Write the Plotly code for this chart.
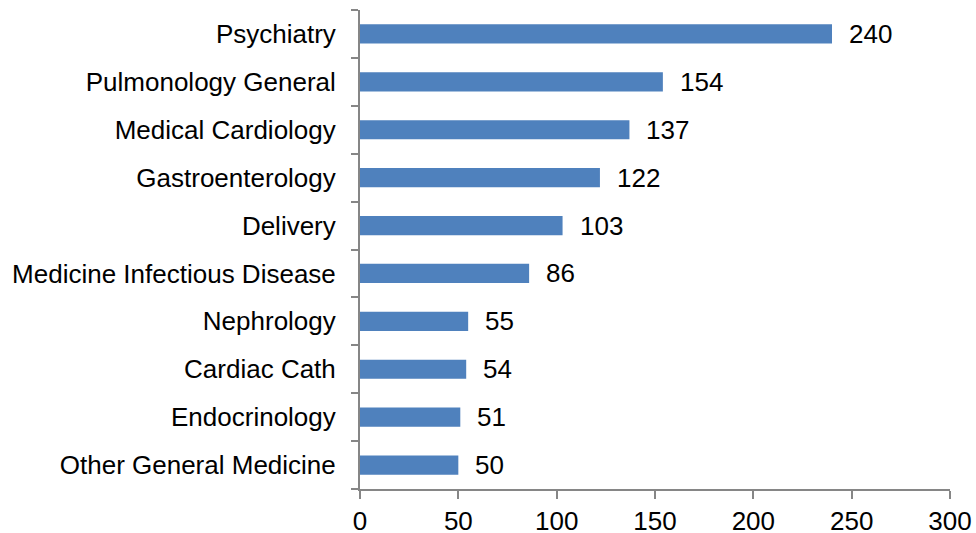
import plotly.graph_objects as go

# departments, top to bottom as shown in the chart
departments = ['Psychiatry', 'Pulmonology General', 'Medical Cardiology', 'Gastroenterology',
               'Delivery', 'Medicine Infectious Disease', 'Nephrology', 'Cardiac Cath',
               'Endocrinology', 'Other General Medicine']
counts = [240, 154, 137, 122, 103, 86, 55, 54, 51, 50]
x_ticks = [0, 50, 100, 150, 200, 250, 300]

font = dict(family='Liberation Sans, Arial, sans-serif', size=26, color='black')
axis_grey = '#868686'

fig = go.Figure()

# horizontal bars, reversed so the first department sits at the top
fig.add_trace(go.Bar(x=counts[::-1], y=departments[::-1], orientation='h',
                     marker=dict(color='#4F81BD', line=dict(width=0)),
                     width=0.4, hoverinfo='x+y'))

# value labels beside each bar
for d, c in zip(departments, counts):
    fig.add_annotation(x=c, y=d, text=str(c), showarrow=False, xanchor='left',
                       xshift=15, font=font)

fig.update_layout(width=976, height=533,
                  margin=dict(l=360, r=26, t=10, b=44),
                  plot_bgcolor='white', paper_bgcolor='white',
                  font=font, showlegend=False)

fig.update_xaxes(range=[0, 300], tickvals=x_ticks, showgrid=False, zeroline=False,
                 showline=True, linecolor=axis_grey, linewidth=2,
                 ticks='outside', ticklen=8, tickwidth=2, tickcolor=axis_grey,
                 ticklabelstandoff=0, automargin=False)
fig.update_yaxes(showgrid=False, zeroline=False, showline=True, linecolor=axis_grey, linewidth=2,
                 ticks='outside', ticklen=7, tickwidth=2, tickcolor=axis_grey,
                 tickson='boundaries', ticklabelstandoff=17, automargin=False)

# drop the default body margin so the figure fills the window exactly
fig.write_html("out.html", config={'displayModeBar': False},
               post_script="document.body.style.margin='0';")
